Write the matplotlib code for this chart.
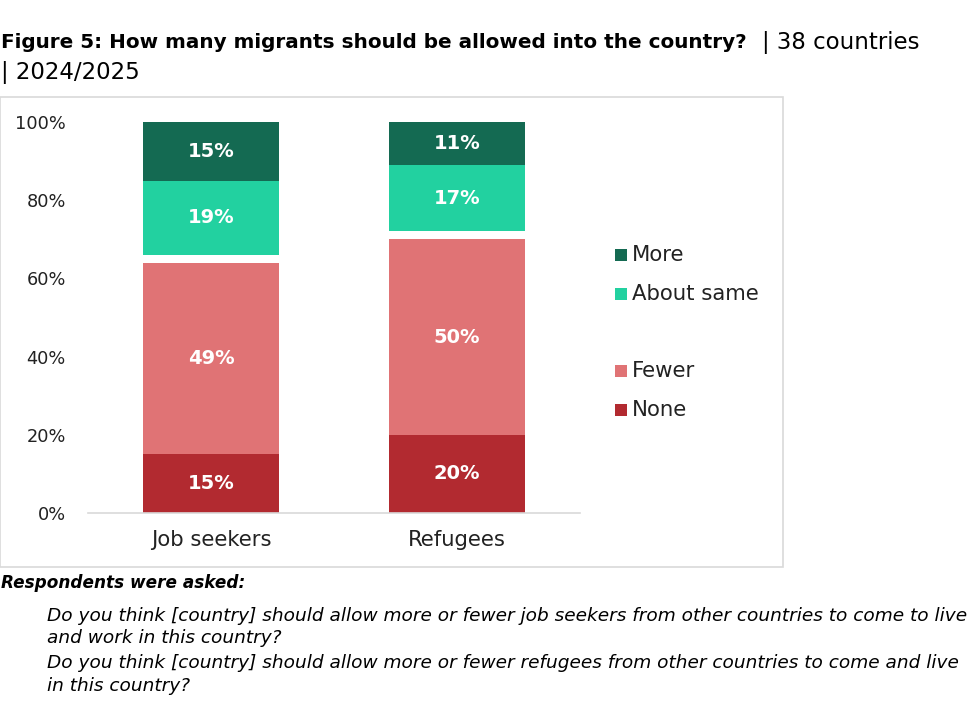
import numpy as np
import matplotlib.pyplot as plt
from matplotlib.patches import Rectangle

# ----------------- data -----------------
categories = ["Job seekers", "Refugees"]
series = ["None", "Fewer", "About same", "More"]
none_vals = [15, 20]
fewer_vals = [49, 50]
same_vals = [19, 17]
more_vals = [15, 11]
colors = {"None": "#B22A30", "Fewer": "#E07375",
          "About same": "#22D1A0", "More": "#146A52"}
yticks = [0, 20, 40, 60, 80, 100]

FONT = ["DejaVu Sans"]
plt.rcParams["font.family"] = FONT

W, H = 980, 702
fig = plt.figure(figsize=(W / 100, H / 100), dpi=100)


def fx(px):
    return px / W


def fy(py):
    return 1 - py / H


# chart frame
fig.patches.append(Rectangle((fx(0), fy(567)), fx(783), (567 - 97) / H,
                             transform=fig.transFigure, fill=False,
                             edgecolor="#D9D9D9", linewidth=1.2))

ax = fig.add_axes([fx(88), fy(513), fx(580 - 88), (513 - 122) / H])

x = np.arange(len(categories))
none_a = np.array(none_vals)
fewer_a = np.array(fewer_vals)
same_a = np.array(same_vals)
more_a = np.array(more_vals)
gap_a = 100 - (none_a + fewer_a + same_a + more_a)  # unshown remainder

bw = 0.555
b = np.zeros(len(x))
segs = [("None", none_a), ("Fewer", fewer_a), (None, gap_a),
        ("About same", same_a), ("More", more_a)]
for name, vals in segs:
    if name is None:
        b = b + vals
        continue
    ax.bar(x, vals, bw, bottom=b, color=colors[name], label=name,
           linewidth=0)
    for xi, v, bb in zip(x, vals, b):
        ax.text(xi, bb + v / 2, f"{v}%", ha="center", va="center",
                color="white", fontsize=14, fontweight="bold")
    b = b + vals

ax.set_xlim(-0.5, 1.5)
ax.set_ylim(0, 100)
ax.set_yticks(yticks)
ax.set_yticklabels([f"{t}%" for t in yticks], fontsize=12.8, color="#222222")
ax.set_xticks(x)
ax.set_xticklabels(categories, fontsize=15.2, color="#222222")
ax.tick_params(length=0)
ax.tick_params(axis="y", pad=16)
ax.tick_params(axis="x", pad=12)
for s in ["top", "right", "left"]:
    ax.spines[s].set_visible(False)
ax.spines["bottom"].set_color("#D9D9D9")
ax.spines["bottom"].set_linewidth(1.2)

# legend (manual, with a gap between groups)
leg_items = [("More", 255), ("About same", 294), ("Fewer", 371), ("None", 410)]
for name, py in leg_items:
    fig.patches.append(Rectangle((fx(615), fy(py + 6)), fx(12), 12 / H,
                                 transform=fig.transFigure,
                                 facecolor=colors[name], edgecolor="none"))
    fig.text(fx(632), fy(py), name, fontsize=15.3, va="center", ha="left",
             color="#222222")

# title
fig.text(fx(1), fy(42), "Figure 5: How many migrants should be allowed into the country?",
         fontsize=14.4, fontweight="bold", va="center", ha="left")
fig.text(fx(762), fy(42), "| 38 countries", fontsize=16.5, va="center", ha="left")
fig.text(fx(1), fy(72), "| 2024/2025", fontsize=16.5, va="center", ha="left")

# footnote
fig.text(fx(1), fy(583), "Respondents were asked:", fontsize=12.2,
         fontweight="bold", fontstyle="italic", va="center", ha="left")
notes = [
    ("Do you think [country] should allow more or fewer job seekers from other countries to come to live", 616),
    ("and work in this country?", 638),
    ("Do you think [country] should allow more or fewer refugees from other countries to come and live", 663),
    ("in this country?", 686),
]
for t, py in notes:
    fig.text(fx(47), fy(py), t, fontsize=13.3, fontstyle="italic",
             va="center", ha="left")

fig.savefig("out.png", dpi=100)
